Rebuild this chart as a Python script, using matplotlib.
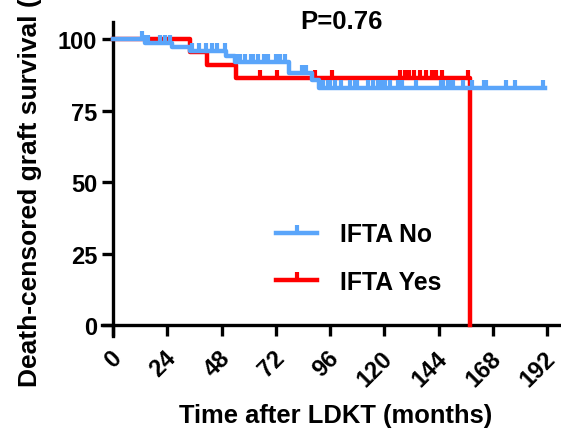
import numpy as np
from matplotlib import pyplot as plt
from matplotlib import transforms

plt.rcParams['font.family'] = ['Liberation Sans', 'DejaVu Sans']
plt.rcParams['font.weight'] = 'bold'

BLUE = "#5AA5FA"
RED = "#FF0000"

# step curves (time in months, survival %)
no_t = [0, 14, 26, 34, 50, 54, 78, 88, 91, 191]
no_s = [100, 98.6, 97.2, 95.8, 94.2, 92.0, 88.0, 85.8, 82.8, 82.8]
no_cens = [13, 14.5, 15.5, 21, 23, 25, 35, 38, 41, 44, 46, 49.5, 55, 56, 58.5, 61, 62, 64,
           67, 68.5, 72, 74, 76, 83.5, 85.5, 93, 95, 96, 98, 101, 105, 107, 108, 113, 115,
           117, 119, 120.5, 122.5, 126, 128, 134, 145, 146, 148, 149, 150.5, 155, 159, 164,
           165, 174, 178, 190]

yes_t = [0, 34, 41.5, 54.5, 158]
yes_s = [100, 95.5, 91.0, 86.5, 0]
yes_cens = [65, 72.5, 89.5, 97, 127, 129, 131, 133, 136, 138.5, 141, 143, 145.5, 157]

xticks = [0, 24, 48, 72, 96, 120, 144, 168, 192]
yticks = [0, 25, 50, 75, 100]

LW = 3.2
MS = 5.5
MEW = 3.0


def level_at(times, surv, c):
    idx = np.searchsorted(times, c, side='right') - 1
    return np.array(surv)[idx]


fig = plt.figure(figsize=(5.61, 4.31), dpi=100)
ax = fig.add_axes([0.1813, 0.217, 0.818, 0.73])

ax.step(yes_t, yes_s, where='post', color=RED, lw=LW, zorder=3)
ax.plot(yes_cens, level_at(yes_t, yes_s, yes_cens), ls='none', marker=2, ms=MS, mew=MEW,
        color=RED, zorder=3)
ax.step(no_t, no_s, where='post', color=BLUE, lw=LW, zorder=4)
ax.plot(no_cens, level_at(no_t, no_s, no_cens), ls='none', marker=2, ms=MS, mew=MEW,
        color=BLUE, zorder=4)

# legend handles
h1, = ax.plot([], [], color=BLUE, lw=LW, marker=2, ms=MS, mew=MEW)
h2, = ax.plot([], [], color=RED, lw=LW, marker=2, ms=MS, mew=MEW)
fig.legend([h1, h2], ["IFTA No", "IFTA Yes"], loc='center left',
           bbox_to_anchor=(276 / 561, 1 - 259 / 431), frameon=False, fontsize=17.8,
           handlelength=1.66, handletextpad=0.93, labelspacing=0.94, borderpad=0,
           borderaxespad=0)

ax.set_xlim(-5, 198)
ax.set_ylim(-4, 106)
ax.spines['left'].set_position(('data', 0))
ax.spines['bottom'].set_position(('data', 0))
ax.spines['top'].set_visible(False)
ax.spines['right'].set_visible(False)
for s in ['left', 'bottom']:
    ax.spines[s].set_linewidth(2.4)

ax.set_xticks(xticks)
ax.set_yticks(yticks)
ax.tick_params(direction='out', length=8, width=2.4, labelsize=17)
ax.tick_params(axis='y', pad=3.5)
ax.tick_params(axis='x', pad=13)
ax.set_xticklabels([str(x) for x in xticks], rotation=45, ha='right', va='center',
                   rotation_mode='anchor')
ax.set_yticklabels([str(y) for y in yticks])
shift = transforms.ScaledTranslation(5 / 100, 0, fig.dpi_scale_trans)
for lab in ax.get_xticklabels():
    lab.set_transform(lab.get_transform() + shift)

fig.text(335.5 / 561, (431 - 423) / 431, "Time after LDKT (months)", fontsize=18.4,
         fontweight='bold', ha='center', va='baseline')
fig.text(30.5 / 561, (431 - 387) / 431, "Death-censored graft survival (%)", rotation=90,
         fontsize=19, fontweight='bold', ha='center', va='bottom')
fig.text(341 / 561, (431 - 29) / 431, "P=0.76", fontsize=18.5, fontweight='bold',
         ha='center', va='baseline')

fig.savefig("out.png", dpi=100)
